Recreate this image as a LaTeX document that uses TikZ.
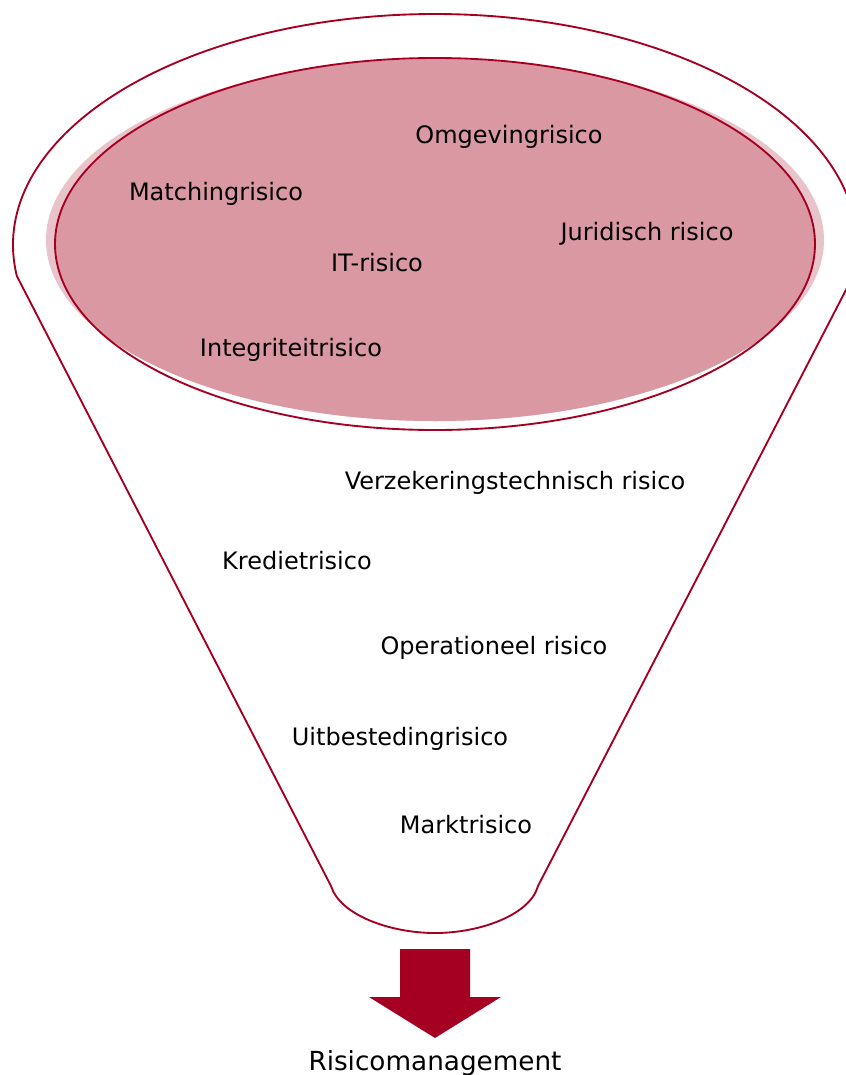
\documentclass[tikz,border=0pt]{standalone}
\usepackage{fontspec}
\setmainfont{DejaVu Sans}
\definecolor{darkred}{HTML}{A50021}
\definecolor{pinkfill}{HTML}{DA98A3}
\definecolor{pinkrim}{HTML}{E9C3CA}
\tikzset{
  risk/.style={anchor=base, inner sep=0pt, text=black, font=\fontsize{18pt}{20pt}\selectfont},
  outcome/.style={anchor=base, inner sep=0pt, text=black, font=\fontsize{19.7pt}{22pt}\selectfont},
  funnelline/.style={draw=darkred, line width=1.4pt, line join=round},
}
\begin{document}
\begin{tikzpicture}[x=0.75pt,y=-0.75pt]
\useasboundingbox (0,0) rectangle (846,1075);
% funnel outline
\draw[funnelline, fill=white] (331,886) -- ([shift={(435,245)}]172.3:422 and 231)
  arc[start angle=172.3, end angle=367.7, x radius=422, y radius=231]
  -- (538,886)
  .. controls (530,915) and (480,933) .. (435,933)
  .. controls (390,933) and (340,915) .. cycle;
% inner ellipse with soft rim
\fill[pinkrim] (435,240) ellipse[x radius=389, y radius=181];
\begin{scope}
  \clip (435,244) ellipse[x radius=380, y radius=186];
  \fill[pinkfill] (435,240) ellipse[x radius=389, y radius=181];
\end{scope}
\draw[darkred, line width=1.4pt] (435,244) ellipse[x radius=380, y radius=186];
% labels
\node[risk] (omg) at (509,143) {Omgevingrisico};
\node[risk] (mat) at (216,200) {Matchingrisico};
\node[risk] (jur) at (647,240) {Juridisch risico};
\node[risk] (it) at (377,271) {IT-risico};
\node[risk] (int) at (291,356) {Integriteitrisico};
\node[risk] (ver) at (515,489) {Verzekeringstechnisch risico};
\node[risk] (kre) at (297,569) {Kredietrisico};
\node[risk] (ope) at (494,654) {Operationeel risico};
\node[risk] (uit) at (400,745) {Uitbestedingrisico};
\node[risk] (mar) at (466,833) {Marktrisico};
% arrow
\fill[darkred] (400,949) -- (470,949) -- (470,997) -- (501,997) -- (435,1038) -- (369,997) -- (400,997) -- cycle;
\node[outcome] (rm) at (435,1070) {Risicomanagement};
\end{tikzpicture}
\end{document}
